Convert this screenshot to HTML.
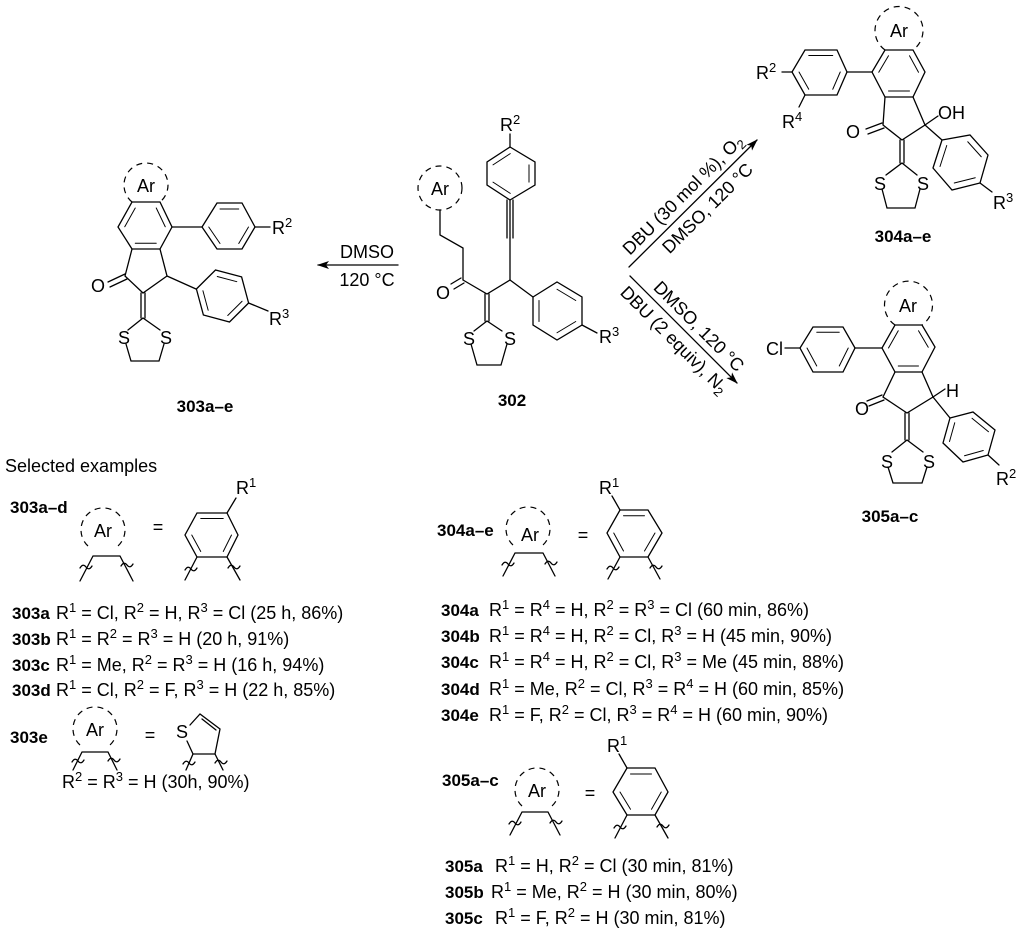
<!DOCTYPE html>
<html><head><meta charset="utf-8">
<style>
html,body{margin:0;padding:0;background:#fff;}
svg{display:block;}
text{font-family:"Liberation Sans",Arial,sans-serif;font-size:18px;fill:#000;}
.b{font-weight:bold;font-size:17px;}
.ln{stroke:#000;stroke-width:1.3;fill:none;stroke-linecap:round;}
.d{stroke:#000;stroke-width:1.2;fill:none;stroke-dasharray:6 5;}
</style></head>
<body>
<svg width="1024" height="932" viewBox="0 0 1024 932" xmlns="http://www.w3.org/2000/svg">
<defs>
<marker id="ah" markerWidth="12" markerHeight="8" refX="11" refY="4" orient="auto" markerUnits="userSpaceOnUse">
<path d="M0 0 L12 4 L0 8 L3 4 Z" fill="#000"/></marker>
</defs>

<!-- ===== 303 ===== -->
<g class="ln">
<path d="M132 202L160 202L172 227L160 249L132 249L118 227Z"/>
<path transform="translate(145 226) scale(.75) translate(-145 -226)" d="M118 227L132 202M160 202L172 227M160 249L132 249"/>
<path d="M132 249L125 276L143 293L167 276L160 249"/>
<path d="M125 274L108 282M127 279L110 287"/>
<path d="M141 293L141 318M145 293L145 318"/>
<path d="M143 318L128 330M143 318L160 330M126 344L131 361L159 361L164 344"/>
<path d="M172 227L202 227"/>
<path d="M202 227L217 203L242 203L255 227L242 249L217 249Z"/>
<path transform="translate(229 227) scale(.75) translate(-229 -227)" d="M217 203L242 203M255 227L242 249M217 249L202 227"/>
<path d="M255 227L270 227"/>
<path d="M167 276L196 289"/>
<path d="M196.4 289L215.5 270L241.6 276.9L248.6 303L229.5 322L203.4 315Z"/>
<path transform="translate(222.5 296) scale(.75) translate(-222.5 -296)" d="M215.5 270L241.6 276.9M248.6 303L229.5 322M203.4 315L196.4 289"/>
<path d="M248.6 303L268 311"/>
</g>
<path class="d" d="M132 202 A22 22 0 1 1 160 202"/>
<text x="146" y="192" text-anchor="middle">Ar</text>
<text x="98" y="292" text-anchor="middle">O</text>
<text x="124" y="344" text-anchor="middle">S</text>
<text x="166" y="344" text-anchor="middle">S</text>
<text x="272" y="234">R<tspan dy="-7" font-size="13">2</tspan></text>
<text x="269" y="325">R<tspan dy="-7" font-size="13">3</tspan></text>
<text x="205" y="412" text-anchor="middle" class="b">303a–e</text>
<line class="ln" x1="398" y1="265" x2="318" y2="265" marker-end="url(#ah)"/>
<text x="367" y="258" text-anchor="middle">DMSO</text>
<text x="367" y="286" text-anchor="middle">120 °C</text>

<!-- ===== 302 ===== -->
<circle class="d" cx="440" cy="188" r="22"/>
<text x="440" y="195" text-anchor="middle">Ar</text>
<g class="ln">
<path d="M440 210L440 235L463 248L463 280"/>
<path d="M461 278L451 284M464 283L454 289"/>
<path d="M463 280L487 294L510 280"/>
<path d="M485 294L485 321M489 294L489 321"/>
<path d="M487 321L474 331M487 321L502 331M471 344L477 365L501 365L507 344"/>
<path d="M510 280L510 238"/>
<path d="M507 238L507 200M510 238L510 200M513 238L513 200"/>
<path d="M510 200L535 185L535 162L510 147L487 162L487 185Z"/>
<path transform="translate(511 173.5) scale(.75) translate(-511 -173.5)" d="M535 185L535 162M510 147L487 162M487 185L510 200"/>
<path d="M510 147L510 134"/>
<path d="M510 280L533 297"/>
<path d="M533 297L557 282L582 297L582 325L557 340L533 325Z"/>
<path transform="translate(557 311) scale(.75) translate(-557 -311)" d="M557 282L582 297M582 325L557 340M533 325L533 297"/>
<path d="M582 325L597 333"/>
</g>
<text x="443" y="299" text-anchor="middle">O</text>
<text x="469" y="345" text-anchor="middle">S</text>
<text x="510" y="345" text-anchor="middle">S</text>
<text x="500" y="131">R<tspan dy="-7" font-size="13">2</tspan></text>
<text x="599" y="343">R<tspan dy="-7" font-size="13">3</tspan></text>
<text x="512" y="406" text-anchor="middle" class="b">302</text>

<!-- arrows -->
<line class="ln" x1="629" y1="267" x2="757" y2="140" marker-end="url(#ah)"/>
<line class="ln" x1="630" y1="276" x2="737" y2="383" marker-end="url(#ah)"/>
<g transform="translate(692 204) rotate(-44.8)">
<text x="0" y="-7" text-anchor="middle">DBU (30 mol %), O<tspan dy="4" font-size="13">2</tspan></text>
<text x="8" y="20" text-anchor="middle">DMSO, 120 °C</text>
</g>
<g transform="translate(684 330) rotate(45)">
<text x="8" y="-7" text-anchor="middle">DMSO, 120 °C</text>
<text x="0" y="20" text-anchor="middle">DBU (2 equiv), N<tspan dy="4" font-size="13">2</tspan></text>
</g>

<!-- ===== 304 ===== -->
<g class="ln">
<path d="M885 50L913 50L925 72L913 97L885 97L872 72Z"/>
<path transform="translate(899 73) scale(.75) translate(-899 -73)" d="M885 50L872 72M913 50L925 72M913 97L885 97"/>
<path d="M885 97L883 125L902 140L925 125L913 97"/>
<path d="M882 123L866 129M884 128L868 134"/>
<path d="M900 140L900 163M904 140L904 163"/>
<path d="M902 163L886 175M902 163L917 175M882 189L887 208L915 208L920 189"/>
<path d="M925 125L938 116"/>
<path d="M925 125L942 140"/>
<path d="M942 140L970 135L988 155L980 183L952 190L933 168Z"/>
<path transform="translate(961 162) scale(.75) translate(-961 -162)" d="M970 135L988 155M980 183L952 190M933 168L942 140"/>
<path d="M980 183L992 192"/>
<path d="M872 72L847 72"/>
<path d="M847 72L837 50L805 50L792 72L805 95L837 95Z"/>
<path transform="translate(820 72) scale(.75) translate(-820 -72)" d="M837 50L805 50M792 72L805 95M837 95L847 72"/>
<path d="M792 72L782 72M805 95L799 107"/>
</g>
<path class="d" d="M885 50 A24 24 0 1 1 913 50"/>
<text x="899" y="37" text-anchor="middle">Ar</text>
<text x="853" y="138" text-anchor="middle">O</text>
<text x="880" y="190" text-anchor="middle">S</text>
<text x="923" y="190" text-anchor="middle">S</text>
<text x="938" y="119">OH</text>
<text x="993" y="209">R<tspan dy="-7" font-size="13">3</tspan></text>
<text x="756" y="79">R<tspan dy="-7" font-size="13">2</tspan></text>
<text x="782" y="128">R<tspan dy="-7" font-size="13">4</tspan></text>
<text x="903" y="242" text-anchor="middle" class="b">304a–e</text>

<!-- ===== 305 ===== -->
<g class="ln">
<path d="M895 325L922 325L935 347L922 372L895 372L882 348Z"/>
<path transform="translate(908 348) scale(.75) translate(-908 -348)" d="M895 325L882 348M922 325L935 347M922 372L895 372"/>
<path d="M895 372L883 397L907 413L933 397L922 372"/>
<path d="M882 395L867 401M884 400L869 406"/>
<path d="M905 413L905 440M909 413L909 440"/>
<path d="M907 440L892 452M907 440L923 452M888 467L893 483L922 483L927 467"/>
<path d="M933 397L945 389"/>
<path d="M933 397L950 418"/>
<path d="M950 418L973 412L995 430L988 455L963 462L943 443Z"/>
<path transform="translate(969 437) scale(.75) translate(-969 -437)" d="M973 412L995 430M988 455L963 462M943 443L950 418"/>
<path d="M988 455L999 465"/>
<path d="M882 348L855 348"/>
<path d="M855 348L843 327L813 327L800 348L813 372L843 372Z"/>
<path transform="translate(828 348) scale(.75) translate(-828 -348)" d="M843 327L813 327M800 348L813 372M843 372L855 348"/>
<path d="M800 348L785 348"/>
</g>
<path class="d" d="M895 325 A24 24 0 1 1 922 325"/>
<text x="908" y="312" text-anchor="middle">Ar</text>
<text x="862" y="415" text-anchor="middle">O</text>
<text x="887" y="468" text-anchor="middle">S</text>
<text x="929" y="468" text-anchor="middle">S</text>
<text x="946" y="397">H</text>
<text x="996" y="485">R<tspan dy="-7" font-size="13">2</tspan></text>
<text x="783" y="355" text-anchor="end">Cl</text>
<text x="890" y="522" text-anchor="middle" class="b">305a–c</text>

<!-- ===== Selected examples ===== -->
<text x="5" y="472">Selected examples</text>

<!-- 303a-d fragment -->
<text x="10" y="513" class="b">303a–d</text>
<path class="d" d="M88 546 A22 22 0 1 1 118 546"/>
<text x="103" y="537" text-anchor="middle">Ar</text>
<g class="ln">
<path d="M93 556L120 556M93 556L80 581M120 556L133 581"/>
<path d="M80 568q3 -5 6 -1t6 -1M121 566q3 -5 6 -1t6 -1"/>
<path d="M197 513L227 513L238 535L227 557L197 557L185 535Z"/>
<path transform="translate(212 535) scale(.75) translate(-212 -535)" d="M197 513L227 513M238 535L227 557M197 557L185 535"/>
<path d="M227 513L236 498M197 557L185 580M227 557L240 580"/>
<path d="M185 570q3 -5 6 -1t6 -1M228 568q3 -5 6 -1t6 -1"/>
</g>
<text x="158" y="533" text-anchor="middle">=</text>
<text x="236" y="494">R<tspan dy="-7" font-size="13">1</tspan></text>

<text x="12" y="619" class="b">303a</text>
<text x="56" y="619">R<tspan dy="-7" font-size="13">1</tspan><tspan dy="7"> = Cl, R</tspan><tspan dy="-7" font-size="13">2</tspan><tspan dy="7"> = H, R</tspan><tspan dy="-7" font-size="13">3</tspan><tspan dy="7"> = Cl (25 h, 86%)</tspan></text>
<text x="12" y="645" class="b">303b</text>
<text x="56" y="645">R<tspan dy="-7" font-size="13">1</tspan><tspan dy="7"> = R</tspan><tspan dy="-7" font-size="13">2</tspan><tspan dy="7"> = R</tspan><tspan dy="-7" font-size="13">3</tspan><tspan dy="7"> = H (20 h, 91%)</tspan></text>
<text x="12" y="671" class="b">303c</text>
<text x="56" y="671">R<tspan dy="-7" font-size="13">1</tspan><tspan dy="7"> = Me, R</tspan><tspan dy="-7" font-size="13">2</tspan><tspan dy="7"> = R</tspan><tspan dy="-7" font-size="13">3</tspan><tspan dy="7"> = H (16 h, 94%)</tspan></text>
<text x="12" y="696" class="b">303d</text>
<text x="56" y="696">R<tspan dy="-7" font-size="13">1</tspan><tspan dy="7"> = Cl, R</tspan><tspan dy="-7" font-size="13">2</tspan><tspan dy="7"> = F, R</tspan><tspan dy="-7" font-size="13">3</tspan><tspan dy="7"> = H (22 h, 85%)</tspan></text>

<!-- 303e fragment -->
<text x="10" y="743" class="b">303e</text>
<path class="d" d="M80 745 A22 22 0 1 1 110 745"/>
<text x="95" y="736" text-anchor="middle">Ar</text>
<g class="ln">
<path d="M82 752L108 752M82 752L73 770M108 752L117 770"/>
<path d="M72 762q3 -5 6 -1t6 -1M108 761q3 -5 6 -1t6 -1"/>
<path d="M190 725L200 714L220 729L215 754L193 754L187 741"/>
<path d="M202 719L216 730"/>
<path d="M193 754L186 770M215 754L223 770"/>
<path d="M183 764q3 -5 6 -1t6 -1M215 763q3 -5 6 -1t6 -1"/>
</g>
<text x="150" y="741" text-anchor="middle">=</text>
<text x="182" y="738" text-anchor="middle">S</text>
<text x="62" y="788">R<tspan dy="-7" font-size="13">2</tspan><tspan dy="7"> = R</tspan><tspan dy="-7" font-size="13">3</tspan><tspan dy="7"> = H (30h, 90%)</tspan></text>

<!-- 304 fragment -->
<text x="437" y="536" class="b">304a–e</text>
<path class="d" d="M513 545 A22 22 0 1 1 543 545"/>
<text x="530" y="541" text-anchor="middle">Ar</text>
<g class="ln">
<path d="M515 553L543 553M515 553L503 576M543 553L555 576"/>
<path d="M502 565q3 -5 6 -1t6 -1M545 564q3 -5 6 -1t6 -1"/>
<path d="M620 510L648 510L662 533L648 557L620 557L607 533Z"/>
<path transform="translate(634 533) scale(.75) translate(-634 -533)" d="M620 510L648 510M662 533L648 557M620 557L607 533"/>
<path d="M620 510L612 496M620 557L608 579M648 557L660 579"/>
<path d="M607 569q3 -5 6 -1t6 -1M650 568q3 -5 6 -1t6 -1"/>
</g>
<text x="583" y="541" text-anchor="middle">=</text>
<text x="599" y="494">R<tspan dy="-7" font-size="13">1</tspan></text>

<text x="441" y="616" class="b">304a</text>
<text x="489" y="616">R<tspan dy="-7" font-size="13">1</tspan><tspan dy="7"> = R</tspan><tspan dy="-7" font-size="13">4</tspan><tspan dy="7"> = H, R</tspan><tspan dy="-7" font-size="13">2</tspan><tspan dy="7"> = R</tspan><tspan dy="-7" font-size="13">3</tspan><tspan dy="7"> = Cl (60 min, 86%)</tspan></text>
<text x="441" y="642" class="b">304b</text>
<text x="489" y="642">R<tspan dy="-7" font-size="13">1</tspan><tspan dy="7"> = R</tspan><tspan dy="-7" font-size="13">4</tspan><tspan dy="7"> = H, R</tspan><tspan dy="-7" font-size="13">2</tspan><tspan dy="7"> = Cl, R</tspan><tspan dy="-7" font-size="13">3</tspan><tspan dy="7"> = H (45 min, 90%)</tspan></text>
<text x="441" y="668" class="b">304c</text>
<text x="489" y="668">R<tspan dy="-7" font-size="13">1</tspan><tspan dy="7"> = R</tspan><tspan dy="-7" font-size="13">4</tspan><tspan dy="7"> = H, R</tspan><tspan dy="-7" font-size="13">2</tspan><tspan dy="7"> = Cl, R</tspan><tspan dy="-7" font-size="13">3</tspan><tspan dy="7"> = Me (45 min, 88%)</tspan></text>
<text x="441" y="695" class="b">304d</text>
<text x="489" y="695">R<tspan dy="-7" font-size="13">1</tspan><tspan dy="7"> = Me, R</tspan><tspan dy="-7" font-size="13">2</tspan><tspan dy="7"> = Cl, R</tspan><tspan dy="-7" font-size="13">3</tspan><tspan dy="7"> = R</tspan><tspan dy="-7" font-size="13">4</tspan><tspan dy="7"> = H (60 min, 85%)</tspan></text>
<text x="441" y="721" class="b">304e</text>
<text x="489" y="721">R<tspan dy="-7" font-size="13">1</tspan><tspan dy="7"> = F, R</tspan><tspan dy="-7" font-size="13">2</tspan><tspan dy="7"> = Cl, R</tspan><tspan dy="-7" font-size="13">3</tspan><tspan dy="7"> = R</tspan><tspan dy="-7" font-size="13">4</tspan><tspan dy="7"> = H (60 min, 90%)</tspan></text>

<!-- 305 fragment -->
<text x="442" y="786" class="b">305a–c</text>
<path class="d" d="M522 806 A22 22 0 1 1 552 806"/>
<text x="537" y="797" text-anchor="middle">Ar</text>
<g class="ln">
<path d="M522 812L548 812M522 812L510 835M548 812L560 835"/>
<path d="M509 824q3 -5 6 -1t6 -1M550 823q3 -5 6 -1t6 -1"/>
<path d="M627 768L655 768L668 792L655 815L627 815L613 792Z"/>
<path transform="translate(641 792) scale(.75) translate(-641 -792)" d="M627 768L655 768M668 792L655 815M627 815L613 792"/>
<path d="M627 768L619 754M627 815L615 838M655 815L668 838"/>
<path d="M614 828q3 -5 6 -1t6 -1M657 827q3 -5 6 -1t6 -1"/>
</g>
<text x="590" y="799" text-anchor="middle">=</text>
<text x="607" y="752">R<tspan dy="-7" font-size="13">1</tspan></text>

<text x="445" y="872" class="b">305a</text>
<text x="495" y="872">R<tspan dy="-7" font-size="13">1</tspan><tspan dy="7"> = H, R</tspan><tspan dy="-7" font-size="13">2</tspan><tspan dy="7"> = Cl (30 min, 81%)</tspan></text>
<text x="445" y="898" class="b">305b</text>
<text x="491" y="898">R<tspan dy="-7" font-size="13">1</tspan><tspan dy="7"> = Me, R</tspan><tspan dy="-7" font-size="13">2</tspan><tspan dy="7"> = H (30 min, 80%)</tspan></text>
<text x="445" y="924" class="b">305c</text>
<text x="495" y="924">R<tspan dy="-7" font-size="13">1</tspan><tspan dy="7"> = F, R</tspan><tspan dy="-7" font-size="13">2</tspan><tspan dy="7"> = H (30 min, 81%)</tspan></text>
</svg>
</body></html>
